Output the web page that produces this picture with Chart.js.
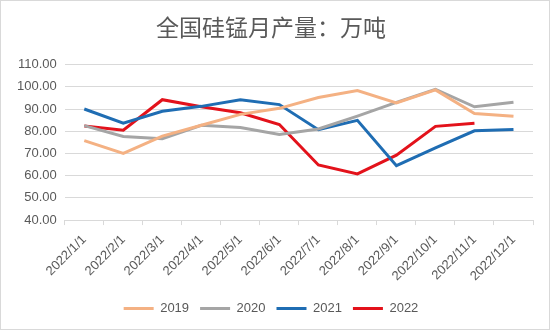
<!DOCTYPE html>
<html>
<head>
<meta charset="utf-8">
<script src="https://cdn.jsdelivr.net/npm/chart.js@4/dist/chart.umd.min.js"></script>
<style>
  html, body { margin: 0; padding: 0; background: #fff; }
  #wrap { width: 548px; height: 328px; border: 1px solid #d9d9d9; position: relative; }
  canvas { display: block; }
</style>
</head>
<body>
<div id="wrap"><canvas id="chart" width="548" height="328"></canvas></div>
<script>
const months = ['2022/1/1', '2022/2/1', '2022/3/1', '2022/4/1', '2022/5/1', '2022/6/1',
  '2022/7/1', '2022/8/1', '2022/9/1', '2022/10/1', '2022/11/1', '2022/12/1'];
const y2019 = [75.8, 70.0, 77.8, 82.7, 87.6, 90.3, 95.2, 98.3, 92.7, 98.6, 88.0, 86.8];
const y2020 = [82.5, 77.6, 76.6, 82.7, 81.7, 78.5, 81.0, 86.8, 93.0, 98.9, 91.0, 93.0];
const y2021 = [90.0, 83.6, 89.0, 91.2, 94.2, 92.0, 80.7, 84.9, 64.5, 72.5, 80.2, 80.8];
const y2022 = [82.4, 80.5, 94.2, 91.0, 88.3, 83.0, 64.8, 60.8, 69.2, 82.2, 83.6, null];

const txt = '#595959';
const mk = (label, data, color) => ({
  label, data, borderColor: color, backgroundColor: color,
  borderWidth: 3, pointRadius: 0, tension: 0, fill: false, spanGaps: false
});

new Chart(document.getElementById('chart'), {
  type: 'line',
  data: {
    labels: months,
    datasets: [
      mk('2019', y2019, '#F4B183'),
      mk('2020', y2020, '#A5A5A5'),
      mk('2021', y2021, '#1F6DB3'),
      mk('2022', y2022, '#E3121B')
    ]
  },
  options: {
    responsive: false,
    animation: false,
    layout: { padding: { left: 8, right: 16, top: 6, bottom: 4 } },
    plugins: {
      title: {
        display: true,
        text: '全国硅锰月产量：万吨',
        color: txt,
        font: { family: '"Noto Sans CJK SC", sans-serif', size: 23, weight: 'normal' },
        padding: { top: 6, bottom: 24 }
      },
      legend: {
        position: 'bottom',
        labels: {
          usePointStyle: true, pointStyle: 'line', boxWidth: 30, pointStyleWidth: 30,
          color: txt, padding: 11,
          font: { family: '"Liberation Sans", sans-serif', size: 13 }
        }
      },
      tooltip: { enabled: false }
    },
    scales: {
      x: {
        offset: true,
        grid: { offset: true, drawOnChartArea: false, drawTicks: true, tickLength: 5, color: '#d9d9d9' },
        border: { color: '#d9d9d9' },
        ticks: {
          minRotation: 45, maxRotation: 45, autoSkip: false, padding: 7,
          color: txt, font: { family: '"Liberation Sans", sans-serif', size: 13 }
        }
      },
      y: {
        min: 40, max: 110,
        grid: { color: '#d9d9d9', drawTicks: false },
        border: { display: false },
        ticks: {
          stepSize: 10, padding: 8,
          color: txt, font: { family: '"Liberation Sans", sans-serif', size: 13 },
          callback: v => v.toFixed(2)
        }
      }
    }
  }
});
</script>
</body>
</html>
